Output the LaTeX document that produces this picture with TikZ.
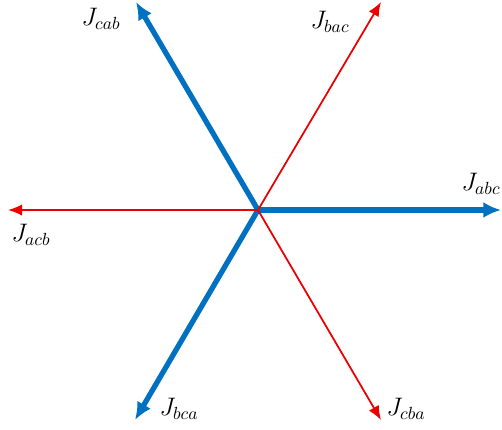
\documentclass[tikz,border=0pt]{standalone}
\definecolor{phaseBlue}{RGB}{0,112,192}
\definecolor{phaseRed}{RGB}{235,0,0}
\usepackage{tikz}
\usetikzlibrary{arrows.meta}

\begin{document}
\begin{tikzpicture}[x=0.02cm, y=-0.02cm]
    \useasboundingbox (0,0) rectangle (502,429);
    \coordinate (o) at (258,210);

    % Vector ends
    \coordinate (abc) at (501,210);
    \coordinate (cab) at (136,2);
    \coordinate (bca) at (135,420);
    \coordinate (acb) at (8,210);
    \coordinate (bac) at (381,2);
    \coordinate (cba) at (381,420);

    % Blue vectors
    \foreach \p in {abc, cab, bca} {
      \draw[phaseBlue, line width=3pt, -{Latex[length=10pt, width=9pt]}] (o) -- (\p);
    }
    % Red vectors
    \foreach \p in {acb, bac, cba} {
      \draw[phaseRed, line width=1pt, -{Latex[length=8pt, width=6.5pt]}] (o) -- (\p);
    }

    % Labels
    \foreach \p/\x/\y in {
      abc/481/184, cab/101/19, bca/179/409,
      acb/31/235, bac/330/22, cba/406/409} {
      \node[font=\Large] (l\p) at (\x,\y) {$J_{\p}$};
    }
\end{tikzpicture}
\end{document}
